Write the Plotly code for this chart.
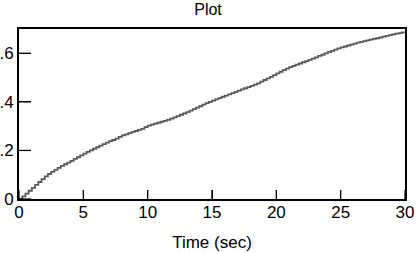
import plotly.graph_objects as go

time_s = [i * 0.25 for i in range(121)]
values = [
    0.000, 0.011, 0.022, 0.034, 0.046, 0.058, 0.070, 0.082, 0.093, 0.103,
    0.112, 0.120, 0.128, 0.136, 0.143, 0.150, 0.157, 0.165, 0.172, 0.180,
    0.187, 0.194, 0.200, 0.207, 0.213, 0.220, 0.226, 0.232, 0.238, 0.243,
    0.249, 0.256, 0.262, 0.266, 0.271, 0.276, 0.280, 0.285, 0.289, 0.296,
    0.302, 0.306, 0.310, 0.314, 0.318, 0.322, 0.326, 0.331, 0.336, 0.341,
    0.347, 0.352, 0.358, 0.364, 0.370, 0.376, 0.382, 0.389, 0.395, 0.400,
    0.405, 0.410, 0.415, 0.421, 0.426, 0.431, 0.436, 0.441, 0.446, 0.451,
    0.456, 0.461, 0.466, 0.471, 0.476, 0.483, 0.490, 0.497, 0.503, 0.510,
    0.517, 0.524, 0.531, 0.537, 0.543, 0.548, 0.553, 0.558, 0.563, 0.568,
    0.573, 0.578, 0.583, 0.589, 0.594, 0.600, 0.605, 0.610, 0.615, 0.620,
    0.624, 0.628, 0.632, 0.636, 0.640, 0.644, 0.647, 0.650, 0.653, 0.656,
    0.659, 0.662, 0.665, 0.669, 0.672, 0.675, 0.678, 0.681, 0.683, 0.686,
    0.688,
]
x_ticks = [0, 5, 10, 15, 20, 25, 30]
y_ticks = [0, 0.2, 0.4, 0.6]
y_tick_labels = ["0", ".2", ".4", ".6"]

FONT = "Liberation Sans, Arial, sans-serif"
W, H = 416, 253
M = dict(l=19, r=11, t=29, b=54)
plot_w = W - M["l"] - M["r"]
plot_h = H - M["t"] - M["b"]
XTICK_LEN, YTICK_LEN = 9, 12

fig = go.Figure()
fig.add_trace(go.Scatter(
    x=time_s, y=values, mode="lines",
    line=dict(color="#5a5a5a", width=1.8, shape="hv"),
    showlegend=False, hoverinfo="skip",
))

# inward tick marks, placed at the tick values through the axes
tick_shapes = []
for t in x_ticks:
    tick_shapes.append(dict(type="line", xref="x", yref="paper", x0=t, x1=t,
                            y0=0, y1=XTICK_LEN / plot_h,
                            line=dict(color="black", width=1.3), layer="above"))
for v in y_ticks:
    tick_shapes.append(dict(type="line", xref="paper", yref="y", x0=0,
                            x1=YTICK_LEN / plot_w, y0=v, y1=v,
                            line=dict(color="black", width=1.3), layer="above"))

fig.update_layout(
    template="none",
    width=W, height=H,
    margin=dict(**M, pad=0),
    paper_bgcolor="white", plot_bgcolor="white",
    font=dict(family=FONT, size=17, color="black"),
    title=dict(text="Plot", x=0.5, xanchor="center", y=0.984, yanchor="top",
               font=dict(family=FONT, size=16, color="black")),
    shapes=tick_shapes,
)
fig.update_xaxes(
    range=[0, 30], tickmode="array", tickvals=x_ticks, ticks="inside",
    ticklen=XTICK_LEN, tickwidth=1.3, tickcolor="black",
    showline=True, linewidth=2, linecolor="black", mirror=True,
    showgrid=False, zeroline=False, automargin=False,
    ticklabelstandoff=-3, ticklabeloverflow="allow",
    title=dict(text="Time (sec)", standoff=15, font=dict(family=FONT, size=17)),
    tickfont=dict(family=FONT, size=17),
)
fig.update_yaxes(
    range=[0, 0.7], tickmode="array", tickvals=y_ticks, ticktext=y_tick_labels,
    ticks="inside", ticklen=YTICK_LEN, tickwidth=1.3, tickcolor="black",
    showline=True, linewidth=2, linecolor="black", mirror=True, showgrid=False,
    zeroline=False, automargin=False, ticklabeloverflow="allow",
    tickfont=dict(family=FONT, size=17),
)

fig.write_html(
    "out.html",
    config={"displayModeBar": False},
    post_script="document.body.style.margin='0';document.body.style.overflow='hidden';",
)
